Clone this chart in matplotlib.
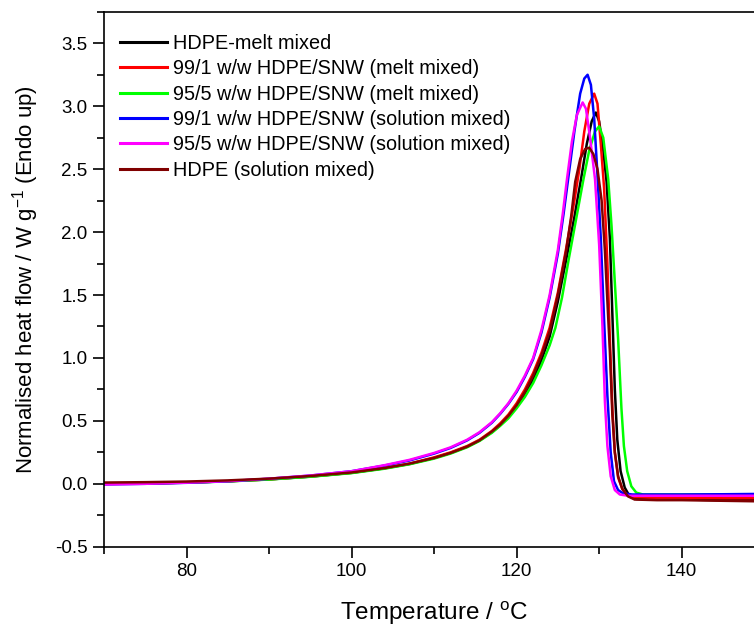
import matplotlib
matplotlib.use("Agg")
import matplotlib.pyplot as plt
from matplotlib.ticker import MultipleLocator

plt.rcParams['font.family'] = ['Liberation Sans', 'DejaVu Sans']
plt.rcParams['mathtext.fontset'] = 'custom'
plt.rcParams['mathtext.rm'] = 'Liberation Sans'
plt.rcParams['mathtext.it'] = 'Liberation Sans:italic'

labels = ["HDPE-melt mixed",
          "99/1 w/w HDPE/SNW (melt mixed)",
          "95/5 w/w HDPE/SNW (melt mixed)",
          "99/1 w/w HDPE/SNW (solution mixed)",
          "95/5 w/w HDPE/SNW (solution mixed)",
          "HDPE (solution mixed)"]
colors = ["#000000", "#FF0000", "#00FF00", "#0000FF", "#FF00FF", "#800000"]

# HDPE-melt mixed (black)
t_black = [70, 75, 80, 85, 90, 95, 100, 104, 107, 110, 112, 114, 115.5, 117, 118, 119, 120, 121, 122, 123,
           124, 125, 126, 127, 127.8, 128.5, 129.1, 129.6, 130.0, 130.5, 130.9, 131.3, 131.6, 131.9, 132.2,
           132.6, 133.1, 133.7, 134.5, 137, 140, 145, 150]
y_black = [0.0, 0.003, 0.01, 0.02, 0.035, 0.057, 0.087, 0.123, 0.157, 0.205, 0.245, 0.295, 0.345, 0.41, 0.465,
           0.53, 0.61, 0.71, 0.83, 0.98, 1.17, 1.45, 1.78, 2.12, 2.42, 2.7, 2.88, 2.95, 2.88, 2.65, 2.4, 1.95,
           1.35, 0.75, 0.35, 0.1, -0.03, -0.1, -0.12, -0.125, -0.125, -0.13, -0.13]

# 99/1 melt mixed (red)
t_red = [70, 75, 80, 85, 90, 95, 100, 104, 107, 110, 112, 114, 115.5, 117, 118, 119, 120, 121, 122, 123,
         124, 125, 126, 127, 127.6, 128.2, 128.8, 129.4, 129.8, 130.2, 130.6, 131.0, 131.3, 131.6, 131.9,
         132.3, 132.8, 133.4, 134.2, 136, 140, 145, 150]
y_red = [0.0, 0.003, 0.01, 0.02, 0.035, 0.058, 0.088, 0.125, 0.16, 0.21, 0.25, 0.3, 0.35, 0.42, 0.48, 0.55,
         0.64, 0.75, 0.88, 1.04, 1.24, 1.52, 1.87, 2.25, 2.5, 2.8, 3.02, 3.10, 3.02, 2.7, 2.35, 1.75, 1.15,
         0.6, 0.25, 0.05, -0.04, -0.09, -0.105, -0.11, -0.11, -0.115, -0.115]

# 95/5 melt mixed (green)
t_green = [70, 75, 80, 85, 90, 95, 100, 104, 107, 110, 112, 114, 115.5, 117, 118, 119, 120, 121, 122, 123,
           124, 124.7, 125.5, 126.3, 127.2, 128.1, 128.8, 129.5, 130.0, 130.5, 131.1, 131.5, 131.9, 132.3,
           132.7, 133.0, 133.4, 133.9, 134.5, 135.3, 140, 145, 150]
y_green = [0.0, 0.003, 0.009, 0.019, 0.034, 0.056, 0.085, 0.12, 0.155, 0.2, 0.24, 0.29, 0.34, 0.405, 0.46,
           0.52, 0.6, 0.69, 0.8, 0.94, 1.1, 1.24, 1.48, 1.78, 2.1, 2.42, 2.65, 2.8, 2.84, 2.75, 2.42, 2.05,
           1.6, 1.15, 0.6, 0.3, 0.1, -0.02, -0.07, -0.085, -0.085, -0.085, -0.085]

# 99/1 solution mixed (blue)
t_blue = [70, 75, 80, 85, 90, 95, 100, 104, 107, 110, 112, 114, 115.5, 117, 118, 119, 120, 121, 122, 123,
          124, 125, 125.7, 126.3, 127.0, 127.7, 128.2, 128.6, 129.0, 129.4, 129.8, 130.2, 130.6, 131.0, 131.4,
          131.8, 132.3, 132.9, 134, 140, 145, 150]
y_blue = [-0.005, 0.0, 0.008, 0.02, 0.04, 0.065, 0.1, 0.145, 0.185, 0.24, 0.285, 0.345, 0.405, 0.485, 0.555,
          0.635, 0.73, 0.85, 0.99, 1.2, 1.48, 1.83, 2.15, 2.45, 2.8, 3.1, 3.22, 3.25, 3.17, 2.9, 2.45, 1.95,
          1.3, 0.7, 0.25, 0.02, -0.05, -0.075, -0.085, -0.085, -0.083, -0.08]

# 95/5 solution mixed (magenta)
t_magenta = [70, 75, 80, 85, 90, 95, 100, 104, 107, 110, 112, 114, 115.5, 117, 118, 119, 120, 121, 122, 123,
             124, 125, 125.6, 126.1, 126.7, 127.3, 128.0, 128.4, 128.9, 129.5, 130.0, 130.4, 130.7, 131.0,
             131.4, 131.9, 132.5, 133.5, 136, 140, 145, 150]
y_magenta = [-0.005, 0.0, 0.009, 0.021, 0.041, 0.066, 0.1, 0.148, 0.19, 0.245, 0.29, 0.35, 0.41, 0.49, 0.56,
             0.64, 0.74, 0.86, 1.0, 1.22, 1.5, 1.86, 2.15, 2.42, 2.72, 2.93, 3.03, 2.98, 2.75, 2.42, 1.9,
             1.25, 0.65, 0.3, 0.06, -0.05, -0.085, -0.095, -0.095, -0.095, -0.095, -0.095]

# HDPE solution mixed (dark red)
t_darkred = [70, 75, 80, 85, 90, 95, 100, 104, 107, 110, 112, 114, 115.5, 117, 118, 119, 120, 121, 122, 123,
             124, 125, 126, 126.6, 127.1, 127.7, 128.3, 128.8, 129.3, 129.8, 130.3, 130.7, 131.0, 131.3,
             131.6, 131.9, 132.3, 132.8, 133.5, 134.3, 137, 140, 145, 150]
y_darkred = [0.01, 0.013, 0.018, 0.027, 0.041, 0.062, 0.09, 0.125, 0.16, 0.205, 0.245, 0.295, 0.345, 0.415,
             0.47, 0.54, 0.625, 0.73, 0.86, 1.02, 1.21, 1.5, 1.85, 2.12, 2.4, 2.58, 2.66, 2.67, 2.62, 2.5,
             2.25, 1.85, 1.45, 1.05, 0.55, 0.25, 0.06, -0.04, -0.1, -0.125, -0.13, -0.13, -0.135, -0.14]

series_t = [t_black, t_red, t_green, t_blue, t_magenta, t_darkred]
series_y = [y_black, y_red, y_green, y_blue, y_magenta, y_darkred]

fig = plt.figure(figsize=(7.54, 6.29), dpi=100)
ax = fig.add_axes([0.138, 0.1308, 1.0135 - 0.138, 0.9812 - 0.1308])

for t, y, c, lab in zip(series_t, series_y, colors, labels):
    ax.plot(t, y, color=c, lw=1.8, label=lab)

ax.set_xlim(70, 150)
ax.set_ylim(-0.5, 3.75)
ax.xaxis.set_major_locator(MultipleLocator(20))
ax.xaxis.set_minor_locator(MultipleLocator(10))
ax.yaxis.set_major_locator(MultipleLocator(0.5))
ax.yaxis.set_minor_locator(MultipleLocator(0.25))
ax.yaxis.set_major_formatter(matplotlib.ticker.FormatStrFormatter('%.1f'))
ax.tick_params(which='major', direction='out', length=8, width=1.2, labelsize=13.5, pad=4)
ax.tick_params(which='minor', direction='out', length=5, width=1.2)
ax.spines['right'].set_visible(False)
for s in ['left', 'bottom', 'top']:
    ax.spines[s].set_linewidth(1.2)

ax.set_xlabel('Temperature / $^{\\mathrm{o}}$C', fontsize=17.5, labelpad=14)
ax.set_ylabel('Normalised heat flow / W g$^{\\mathrm{-1}}$ (Endo up)', fontsize=16, labelpad=10)

leg = fig.legend(loc='upper left', bbox_to_anchor=(120 / 754, 1 - 34 / 629), frameon=False,
                 fontsize=14.3, handlelength=2.35, handletextpad=0.3, labelspacing=0.32,
                 borderpad=0, borderaxespad=0)
for h in leg.get_lines():
    h.set_linewidth(2.2)

fig.savefig('out.png', dpi=100)
